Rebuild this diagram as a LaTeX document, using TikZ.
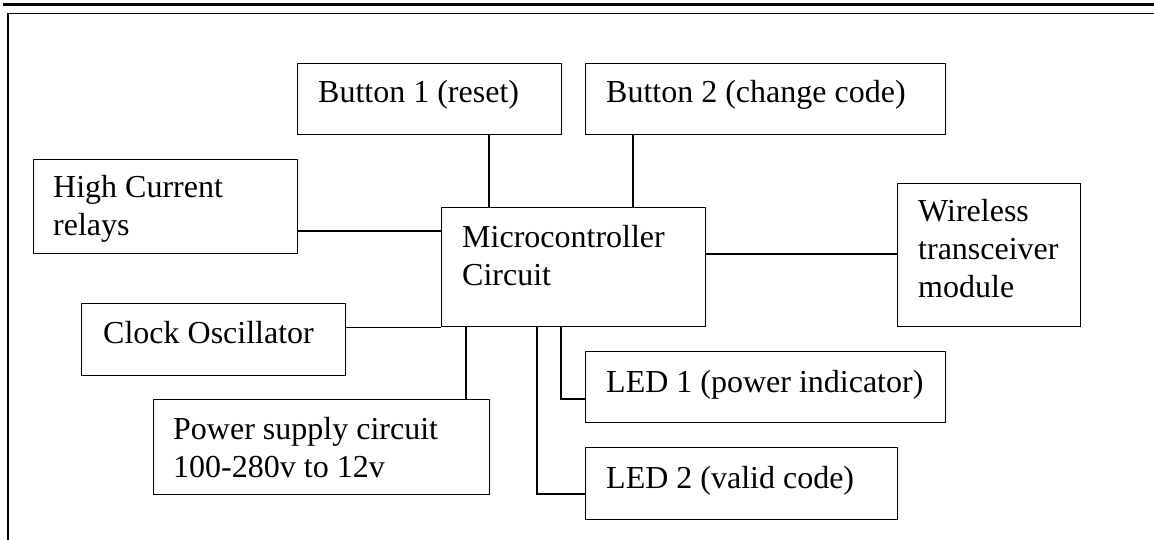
\documentclass[tikz,border=0pt]{standalone}
\usepackage{fontspec}
\setmainfont{Liberation Serif}
\begin{document}
\begin{tikzpicture}[x=1pt,y=-1pt,
  blk/.style={draw,line width=1.3pt,rectangle,inner sep=0pt,anchor=north west},
  txt/.style={anchor=base west,align=left,inner sep=0pt,font=\fontsize{32}{38}\selectfont},
  wire/.style={line width=1.3pt}]
\useasboundingbox (0,0) rectangle (1154,540);
% page frame
\draw[line width=3pt] (3,4.5) -- (1154,4.5);
\draw[line width=1.3pt] (8,540) -- (8,13.5) -- (1154,13.5);
% boxes
\node[blk,minimum width=264pt,minimum height=71pt] (b1) at (297,63) {};
\node[blk,minimum width=360pt,minimum height=71pt] (b2) at (585,63) {};
\node[blk,minimum width=264pt,minimum height=94pt] (rel) at (33,159) {};
\node[blk,minimum width=264pt,minimum height=119pt] (mc) at (441,207) {};
\node[blk,minimum width=183pt,minimum height=143pt] (wl) at (897,183) {};
\node[blk,minimum width=264pt,minimum height=72pt] (clk) at (81,303) {};
\node[blk,minimum width=336pt,minimum height=95pt] (pwr) at (153,399) {};
\node[blk,minimum width=360pt,minimum height=71pt] (led1) at (585,351) {};
\node[blk,minimum width=312pt,minimum height=72pt] (led2) at (585,447) {};
% texts (anchor base = baseline of last line)
\node[txt] (t1) at ([shift={(21,40)}]b1.north west) {Button 1 (reset)};
\node[txt] (t2) at ([shift={(21,40)}]b2.north west) {Button 2 (change code)};
\node[txt] (t3) at ([shift={(20,77)}]rel.north west) {High Current\\relays};
\node[txt] (t4) at ([shift={(21,78)}]mc.north west) {Microcontroller\\Circuit};
\node[txt] (t5) at ([shift={(21,114)}]wl.north west) {Wireless\\transceiver\\module};
\node[txt] (t6) at ([shift={(22,40)}]clk.north west) {Clock Oscillator};
\node[txt] (t7) at ([shift={(20,78)}]pwr.north west) {Power supply circuit\\100-280v to 12v};
\node[txt] (t8) at ([shift={(21,41)}]led1.north west) {LED 1 (power indicator)};
\node[txt] (t9) at ([shift={(21,41)}]led2.north west) {LED 2 (valid code)};
% connector guides
\coordinate (x1) at (489,0);
\coordinate (x2) at (633,0);
\coordinate (y3) at (0,231);
\coordinate (y5) at (0,254);
\coordinate (x7) at (466,0);
\coordinate (x8) at (561,0);
\coordinate (y8) at (0,399);
\coordinate (x9) at (537,0);
\coordinate (y9) at (0,494);
% connectors
\draw[wire] (b1.south -| x1) -- (mc.north -| x1);
\draw[wire] (b2.south -| x2) -- (mc.north -| x2);
\draw[wire] (rel.east |- y3) -- (mc.west |- y3);
\draw[wire] (mc.east |- y5) -- (wl.west |- y5);
\draw[wire] (clk.east |- mc.south) -- (mc.south west);
\draw[wire] (mc.south -| x7) -- (pwr.north -| x7);
\draw[wire] (mc.south -| x8) -- (x8 |- y8) -- (led1.west |- y8);
\draw[wire] (mc.south -| x9) -- (x9 |- y9) -- (led2.west |- y9);
\end{tikzpicture}
\end{document}
